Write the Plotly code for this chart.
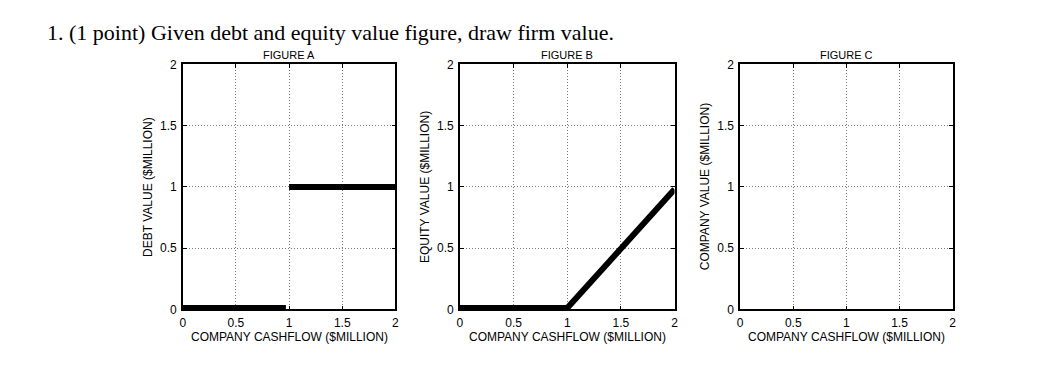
import plotly.graph_objects as go

# Data
debt_x = [[0, 0.97], [1.0, 2.0]]
debt_y = [[0.012, 0.012], [1.0, 1.0]]
equity_x = [0, 1.0, 2.0]
equity_y = [0.012, 0.012, 0.98]
tick_vals = [0, 0.5, 1, 1.5, 2]
tick_text = ["0", "0.5", "1", "1.5", "2"]
panel_titles = ["FIGURE A", "FIGURE B", "FIGURE C"]
y_titles = ["DEBT VALUE ($MILLION)", "EQUITY VALUE ($MILLION)", "COMPANY VALUE ($MILLION)"]
x_title = "COMPANY CASHFLOW ($MILLION)"
main_title = "1. (1 point) Given debt and equity value figure, draw firm value."

W, H = 1060, 382
x_px = [(181, 395), (460, 676), (742, 956)]
y_px = (59.5, 314)

fig = go.Figure()
line_style = dict(color="black", width=6)
for xs, ys in zip(debt_x, debt_y):
    fig.add_trace(go.Scatter(x=xs, y=ys, mode="lines", line=line_style,
                             xaxis="x", yaxis="y", showlegend=False, hoverinfo="skip"))
fig.add_trace(go.Scatter(x=equity_x, y=equity_y, mode="lines", line=line_style,
                         xaxis="x2", yaxis="y2", showlegend=False, hoverinfo="skip"))
fig.add_trace(go.Scatter(x=[None], y=[None], mode="lines", xaxis="x3", yaxis="y3",
                         showlegend=False, hoverinfo="skip"))

font_ax = dict(family="Liberation Sans, Arial", size=12, color="black")
font_pt = dict(family="Liberation Sans, Arial", size=11, color="black")
ydom = [1 - y_px[1] / H, 1 - y_px[0] / H]
layout = dict(width=W, height=H, margin=dict(l=0, r=0, t=0, b=0),
              plot_bgcolor="white", paper_bgcolor="white", showlegend=False)
annotations = []
for i in range(3):
    sfx = "" if i == 0 else str(i + 1)
    xd = [x_px[i][0] / W, x_px[i][1] / W]
    axcommon = dict(range=[0, 2], tickvals=tick_vals, ticktext=tick_text,
                    showgrid=True, gridcolor="#7a7a7a", griddash="1px,2px", gridwidth=1,
                    showline=True, linecolor="black", linewidth=1.5, mirror="ticks",
                    ticks="inside", ticklen=4, tickcolor="black", tickfont=font_ax,
                    zeroline=False, fixedrange=True)
    layout["xaxis" + sfx] = dict(domain=xd, anchor="y" + sfx, ticklabelstandoff=1, **axcommon)
    layout["yaxis" + sfx] = dict(domain=ydom, anchor="x" + sfx, ticklabelstandoff=2, **axcommon)
    cx = (xd[0] + xd[1]) / 2
    annotations.append(dict(text=panel_titles[i], x=cx, y=1 - 50 / H, xref="paper", yref="paper",
                            showarrow=False, font=font_pt, xanchor="center", yanchor="middle"))
    annotations.append(dict(text=x_title, x=cx, y=1 - 343 / H, xref="paper", yref="paper",
                            showarrow=False, font=font_ax, xanchor="center", yanchor="middle"))
    annotations.append(dict(text=y_titles[i], x=(x_px[i][0] - 35) / W, y=(ydom[0] + ydom[1]) / 2,
                            xref="paper", yref="paper", showarrow=False, font=font_ax,
                            textangle=-90, xanchor="center", yanchor="middle"))
annotations.append(dict(text=main_title, x=42 / W, y=1 - 26 / H, xref="paper", yref="paper",
                        showarrow=False, xanchor="left", yanchor="middle",
                        font=dict(family="Liberation Serif, Times New Roman", size=22, color="black")))
layout["annotations"] = annotations
fig.update_layout(**layout)
fig.write_html("out.html", config={"displayModeBar": False},
               post_script="document.body.style.margin='0';")
